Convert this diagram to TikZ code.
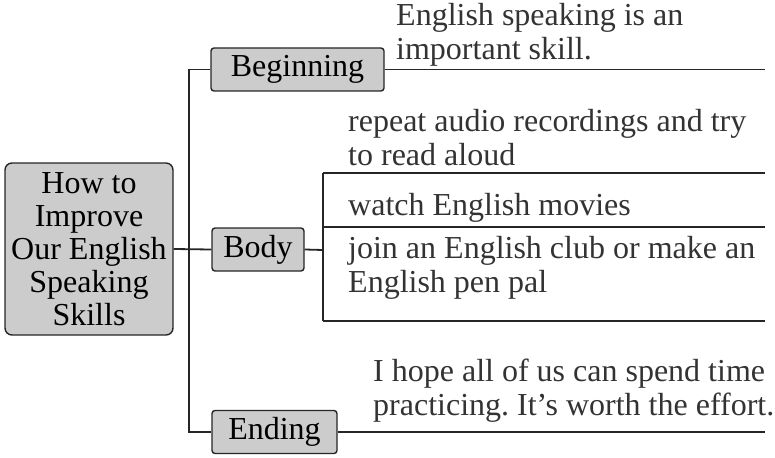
\documentclass[tikz,border=0pt]{standalone}
\usepackage{fontspec}
\setmainfont{Liberation Serif}
\usepackage{xcolor}
\usetikzlibrary{positioning}
\frenchspacing

\begin{document}
\begin{tikzpicture}[x=1pt, y=-1pt,
  hub/.style={draw=black!85, line width=1.4pt, rounded corners=7pt, fill=black!20, align=center, inner sep=0pt, minimum width=168pt, minimum height=172pt},
  box/.style={draw=black!85, line width=1.4pt, rounded corners=3pt, fill=black!20, inner sep=0pt, minimum height=43pt, text height=22pt, text depth=7pt},
  note/.style={align=left, inner sep=0pt, anchor=base west, text=black!80},
  ln/.style={draw=black!85, line width=1.8pt}]
\useasboundingbox (0,0) rectangle (775,457);
\fontsize{32}{33}\selectfont
\node[hub] (main) at (89,249) {How to\\Improve\\Our English\\Speaking\\Skills};
\node[box, minimum width=173pt] (beg) at (297.5,69.5) {Beginning};
\node[box, minimum width=92pt] (body) at (258,249.5) {Body};
\node[box, minimum width=125pt] (end) at (274.5,432) {Ending};
% right edge and body split
\coordinate (rx) at (765,0);
\coordinate (split) at (323,250);
\coordinate (l1) at (765,173);
\coordinate (l2) at (765,227);
\coordinate (l3) at (765,321);
% notes are placed at the baseline of their last line
\begin{scope}[every node/.append style={font=\fontsize{32}{34}\selectfont}]
\node[note] (t1) at (396,60) {English speaking is an\\important skill.};
\node[note] (t2) at (348,165) {repeat audio recordings and try\\to read aloud};
\node[note] (t3) at (348,215) {watch English movies};
\node[note] (t4) at (348,292) {join an English club or make an\\English pen pal};
\node[note] (t5) at (373,415) {I hope all of us can spend time\\practicing. It’s worth the effort.};
\end{scope}
\draw[ln] (beg.west) -- ++(-21,0) |- (end.west);
\draw[ln] (main.east) -- (body.west);
\draw[ln] (beg.east) -- (beg.east -| rx);
\draw[ln] (end.east) -- (end.east -| rx);
\draw[ln] (body.east) -- (split);
\draw[ln] (split |- l1) -- (split |- l3);
\draw[ln] (split |- l1) -- (l1);
\draw[ln] (split |- l2) -- (l2);
\draw[ln] (split |- l3) -- (l3);
\end{tikzpicture}
\end{document}
